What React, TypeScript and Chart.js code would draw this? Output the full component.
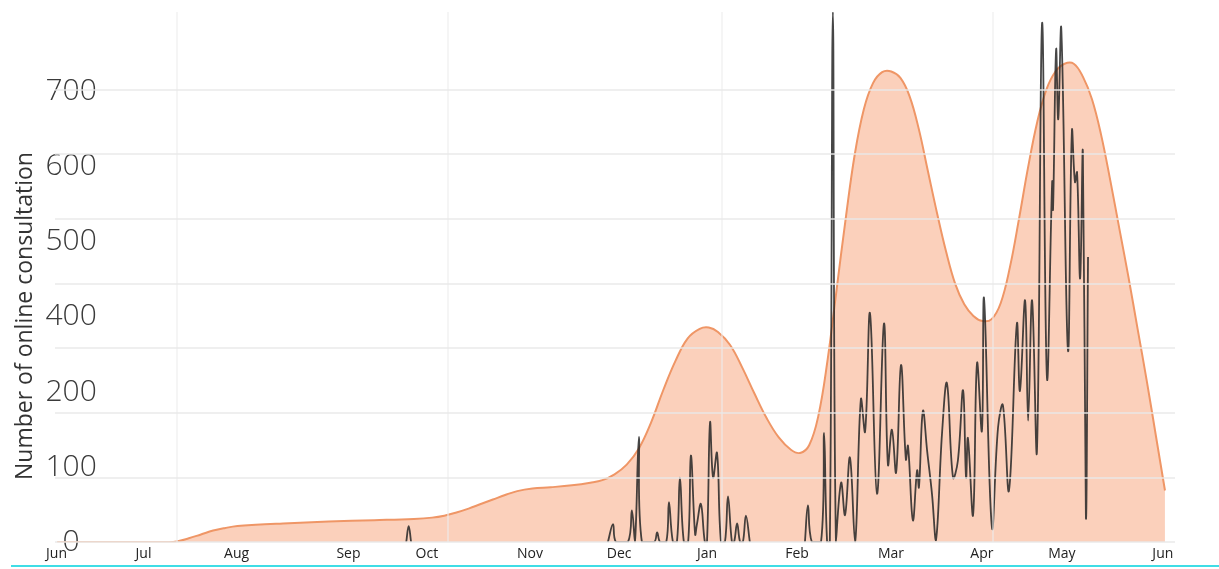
import React, { useEffect, useRef } from 'react';
import { Chart, registerables } from 'chart.js';

Chart.register(...registerables);

const FONT = "'Open Sans', 'Noto Sans', sans-serif";

const axisTitle = 'Number of online consultation';
const monthLabels = ['Jun', 'Jul', 'Aug', 'Sep', 'Oct', 'Nov', 'Dec', 'Jan', 'Feb', 'Mar', 'Apr', 'May', 'Jun'];
const monthTickDays = [0.5, 29.1, 59.7, 96.5, 122.3, 156.2, 185.5, 214.4, 244, 274.9, 304.8, 331.1, 364.3];
const yTickLabels = ['0', '100', '200', '400', '500', '600', '700'];
const gridDays = [40.1, 129.2, 219.3, 308.4];

// smooth envelope (orange area), day offset from 1 June
const envelopeDays = [
  0.7, 15, 28, 37, 40, 44, 48, 52, 56, 60, 66, 75, 90, 105, 118, 124, 128, 132, 136, 140, 144, 148, 152,
  157, 163, 170, 176, 180, 184, 188, 192, 196, 200, 204, 208, 212, 215, 218, 222, 226, 230, 234, 238, 242,
  245, 248, 251, 254, 257, 260, 263, 266, 269, 272, 275, 278, 281, 284, 287, 290, 293, 296, 299, 302, 305,
  308, 311, 314, 317, 320, 323, 326, 329, 332, 335, 338, 341, 344, 347, 350, 353, 356, 359, 362, 365,
];
const envelopeValues = [
  0, 0, 0, 0, 1, 6, 12, 18, 22, 25, 27, 29, 32, 34, 36, 38, 41, 46, 52, 59, 66, 73, 79,
  83, 85, 88, 92, 96, 105, 120, 145, 185, 235, 280, 315, 330, 332, 325, 305, 270, 230, 192, 162, 143,
  138, 150, 195, 280, 390, 500, 600, 670, 710, 727, 728, 718, 690, 640, 575, 510, 450, 400, 368, 350, 342,
  345, 370, 425, 500, 580, 650, 700, 728, 740, 740, 720, 685, 630, 560, 485, 410, 330, 250, 165, 80,
];

// daily consultations (black line); null separates runs with no data
const dailyDays = [
  115.5, 116.3, 117.1,
  150,
  181.8, 183.5, 184.5, 188.4, 189.7, 190.7, 192, 193, 197, 198, 199, 201, 201.9, 203.2, 204.5, 205.5,
  206.8, 208.2, 209.1, 210.5, 211.1, 212.4, 213.7, 214.4, 215.4, 216.4, 217.7, 219, 220.3, 221.3, 222.6,
  223.3, 224.3, 225.3, 226.2, 227.2, 228.5,
  237,
  246.6, 247.6, 248.9, 251.9, 252.9, 253.9, 254.8, 255.8, 256.8, 258.5, 259.8, 261.4, 263.1, 265, 266.4,
  268, 270.3, 272.6, 273.9, 275.2, 276.6, 278.2, 279.8, 280.5, 282.1, 283.5, 284.1, 285.4, 286.8, 288.4,
  289.7, 291.7, 293.3, 295.3, 296.9, 298.6, 299.6, 300.2, 301.9, 303.2, 304.8, 305.5, 308.1, 310.1, 311.7,
  313.7, 316.3, 317.3, 319, 320, 321.3, 322.9, 324.6, 326.2, 327.9, 328.2, 329.2, 329.9, 330.9, 333.1,
  334.4, 335.4, 336.1, 337.1, 338, 339, 339.7,
];
const dailyValues = [
  0, 25, 0,
  null,
  0, 28, 0, 0, 49, 0, 163, 0, 0, 15, 0, 0, 62, 0, 0, 100,
  0, 0, 134, 12, 28, 59, 0, 0, 185, 100, 138, 0, 0, 71, 0,
  0, 29, 0, 0, 41, 0,
  null,
  0, 57, 0, 0, 169, 0, 0, 820, 0, 92, 42, 131, 0, 221, 171,
  354, 75, 338, 120, 174, 108, 274, 128, 149, 34, 111, 85, 203, 141, 74,
  3, 169, 246, 100, 126, 235, 100, 161, 42, 277, 172, 377, 23, 177, 212,
  80, 338, 234, 374, 188, 374, 141, 803, 254, 557, 515, 762, 654, 795, 297,
  636, 557, 572, 408, 603, 38, 441,
];

const X_MAX = 368.3;
const Y_MAX = 820;
const LABEL_AXIS_MAX = 7.06;

const sideTitle = {
  id: 'sideTitle',
  afterDraw(chart: any) {
    const ctx = chart.ctx;
    ctx.save();
    ctx.translate(31.5, 316);
    ctx.rotate(-Math.PI / 2);
    ctx.font = `23px ${FONT}`;
    ctx.fillStyle = '#333333';
    ctx.textAlign = 'center';
    ctx.textBaseline = 'alphabetic';
    ctx.fillText(axisTitle, 0, 0);
    ctx.restore();
  },
};

export default function App() {
  const ref = useRef<HTMLCanvasElement | null>(null);

  useEffect(() => {
    if (!ref.current) return;
    const envelope = envelopeDays.map((d, i) => ({ x: d, y: envelopeValues[i] }));
    const daily = dailyDays.map((d, i) => ({ x: d, y: dailyValues[i] }));

    const chart = new Chart(ref.current, {
      type: 'line',
      data: {
        datasets: [
          {
            label: 'daily',
            data: daily as any,
            borderColor: 'rgba(38,38,38,0.85)',
            borderWidth: 1.8,
            tension: 0.4,
            pointRadius: 0,
            fill: false,
            spanGaps: false,
          },
          {
            label: 'envelope',
            data: envelope as any,
            borderColor: 'rgb(239,150,102)',
            backgroundColor: 'rgba(247,150,105,0.45)',
            borderWidth: 2,
            tension: 0.4,
            pointRadius: 0,
            fill: 'origin',
          },
        ],
      },
      options: {
        responsive: false,
        animation: false,
        events: [],
        layout: { padding: { left: 0, right: 44, top: 12, bottom: 4 } },
        plugins: { legend: { display: false }, tooltip: { enabled: false }, title: { display: false } },
        scales: {
          x: {
            type: 'linear',
            position: 'bottom',
            min: 0,
            max: X_MAX,
            afterBuildTicks: (s: any) => {
              s.ticks = monthTickDays.map((v) => ({ value: v }));
            },
            ticks: {
              autoSkip: false,
              maxRotation: 0,
              padding: 3,
              font: { size: 14, family: FONT },
              color: '#222222',
              callback: (_v: any, i: number) => monthLabels[i],
            },
            grid: { display: false, drawTicks: false },
            border: { display: false },
          },
          xg: {
            type: 'linear',
            position: 'bottom',
            min: 0,
            max: X_MAX,
            afterBuildTicks: (s: any) => {
              s.ticks = gridDays.map((v) => ({ value: v }));
            },
            afterFit: (s: any) => {
              s.height = 0;
            },
            ticks: { display: false },
            grid: { color: 'rgba(236,236,236,0.55)', lineWidth: 2, drawTicks: false, z: 1 },
            border: { display: false },
          },
          y: {
            position: 'left',
            min: 0,
            max: Y_MAX,
            ticks: { display: false, stepSize: 100 },
            afterFit: (s: any) => {
              s.width = 0;
            },
            grid: {
              color: (c: any) => (c.tick && c.tick.value <= 700 ? 'rgba(232,232,232,0.7)' : 'rgba(0,0,0,0)'),
              lineWidth: 2,
              drawTicks: false,
              z: 1,
            },
            border: { display: false },
          },
          yl: {
            position: 'left',
            min: 0,
            max: LABEL_AXIS_MAX,
            afterFit: (s: any) => {
              s.width = 55;
            },
            ticks: {
              stepSize: 1,
              autoSkip: false,
              mirror: true,
              crossAlign: 'center',
              padding: -9.5,
              font: { size: 30, family: FONT, weight: '300' as any },
              color: '#3a3a3a',
              callback: (v: any) => (yTickLabels[v as number] !== undefined ? yTickLabels[v as number] : ''),
            },
            grid: { display: false, drawTicks: false },
            border: { display: false },
          },
        },
      },
      plugins: [sideTitle],
    });
    return () => chart.destroy();
  }, []);

  return (
    <div style={{ position: 'fixed', left: 0, top: 0, width: 1219, height: 569, background: '#ffffff' }}>
      <canvas ref={ref} width={1219} height={569} style={{ display: 'block' }} />
      <div
        style={{ position: 'absolute', left: 11, top: 565, width: 1208, height: 2, background: '#3fdde6' }}
      />
    </div>
  );
}
